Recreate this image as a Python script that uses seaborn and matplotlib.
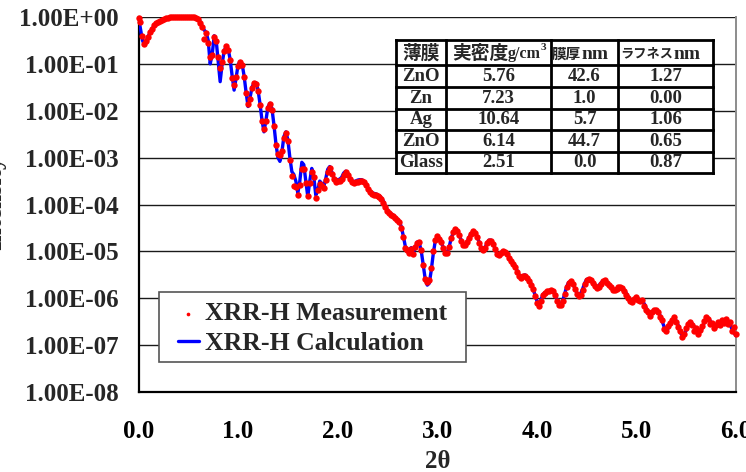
import numpy as np
import pandas as pd
import matplotlib
matplotlib.use("Agg")
import matplotlib.pyplot as plt
import seaborn as sns
from matplotlib.ticker import MultipleLocator, LogLocator, FuncFormatter, NullFormatter
from matplotlib.patches import Rectangle

# ---------------------------------------------------------------- data
# scan grid: 2-theta from 0.00 to 6.00 deg in 0.02 deg steps
two_theta = np.round(np.arange(301) * 0.02, 2)

# fitted reflectivity curve, log10(intensity)
calc_log10 = [
    -0.01, -0.25, -0.50, -0.60, -0.50, -0.40, -0.31, -0.24, -0.18, -0.13,
    -0.10, -0.08, -0.06, -0.04, -0.025, -0.015, -0.01, -0.006, -0.004, -0.002,
    -0.001, 0.0, 0.0, 0.0, 0.0, 0.0, -0.001, -0.002, -0.005, -0.01,
    -0.03, -0.10, -0.20, -0.28, -0.33, -0.50, -1.00, -0.80, -0.40, -0.50,
    -0.95, -1.38, -1.00, -0.72, -0.63, -0.68, -0.90, -1.25, -1.56, -1.30,
    -1.02, -0.95, -1.00, -1.25, -1.60, -1.91, -1.72, -1.50, -1.40, -1.40,
    -1.55, -1.85, -2.20, -2.45, -2.20, -1.92, -1.84, -1.95, -2.30, -2.70,
    -3.00, -3.08, -2.88, -2.55, -2.45, -2.62, -3.00, -3.30, -3.36, -3.50,
    -3.76, -3.50, -3.10, -3.15, -3.50, -3.83, -3.50, -3.23, -3.40, -3.80,
    -3.70, -3.50, -3.55, -3.62, -3.45, -3.25, -3.19, -3.30, -3.42, -3.48,
    -3.47, -3.46, -3.42, -3.33, -3.29, -3.33, -3.43, -3.50, -3.51, -3.50,
    -3.48, -3.47, -3.47, -3.50, -3.56, -3.64, -3.70, -3.74, -3.76, -3.77,
    -3.79, -3.82, -3.86, -3.93, -4.04, -4.12, -4.17, -4.20, -4.23, -4.27,
    -4.31, -4.36, -4.48, -4.68, -4.90, -5.00, -4.95, -4.92, -5.02, -4.92,
    -4.80, -4.82, -5.00, -5.30, -5.60, -5.72, -5.68, -5.40, -5.05, -4.78,
    -4.68, -4.72, -4.80, -4.92, -5.02, -5.02, -4.90, -4.72, -4.60, -4.54,
    -4.56, -4.65, -4.76, -4.84, -4.86, -4.80, -4.70, -4.62, -4.58, -4.60,
    -4.68, -4.80, -4.92, -4.97, -4.92, -4.82, -4.76, -4.76, -4.84, -4.94,
    -5.05, -5.07, -5.03, -4.99, -5.00, -5.04, -5.12, -5.18, -5.24, -5.30,
    -5.40, -5.50, -5.54, -5.52, -5.50, -5.54, -5.60, -5.68, -5.78, -5.92,
    -6.05, -6.12, -6.05, -5.92, -5.88, -5.86, -5.84, -5.83, -5.84, -5.90,
    -6.02, -6.12, -6.14, -6.05, -5.90, -5.75, -5.66, -5.64, -5.68, -5.78,
    -5.88, -5.94, -5.90, -5.80, -5.68, -5.60, -5.59, -5.61, -5.66, -5.72,
    -5.78, -5.74, -5.68, -5.64, -5.63, -5.66, -5.70, -5.76, -5.80, -5.82,
    -5.80, -5.77, -5.76, -5.78, -5.83, -5.90, -5.98, -6.04, -6.05, -6.02,
    -6.00, -6.02, -6.04, -6.06, -6.12, -6.22, -6.32, -6.36, -6.32, -6.26,
    -6.24, -6.28, -6.38, -6.50, -6.62, -6.68, -6.64, -6.55, -6.47, -6.44,
    -6.48, -6.58, -6.72, -6.80, -6.78, -6.68, -6.58, -6.54, -6.54, -6.60,
    -6.68, -6.73, -6.72, -6.64, -6.52, -6.44, -6.42, -6.48, -6.56, -6.60,
    -6.60, -6.56, -6.52, -6.50, -6.48, -6.47, -6.50, -6.56, -6.66, -6.74,
    -6.80,
]

# measured reflectivity, log10(intensity)
meas_log10 = [
    -0.02, -0.10, -0.40, -0.58, -0.52, -0.42, -0.32, -0.25, -0.18, -0.13,
    -0.10, -0.08, -0.06, -0.04, -0.03, -0.02, -0.01, -0.007, -0.005, -0.003,
    -0.002, -0.001, 0.0, 0.0, 0.0, 0.0, -0.002, -0.004, -0.008, -0.015,
    -0.04, -0.12, -0.22, -0.46, -0.35, -0.55, -0.86, -0.80, -0.42, -0.52,
    -0.85, -1.08, -0.95, -0.72, -0.62, -0.70, -0.92, -1.30, -1.45, -1.28,
    -1.05, -0.96, -1.02, -1.28, -1.62, -1.85, -1.75, -1.52, -1.40, -1.42,
    -1.58, -1.88, -2.22, -2.38, -2.22, -1.95, -1.86, -1.98, -2.32, -2.72,
    -2.92, -2.95, -2.85, -2.58, -2.47, -2.65, -3.05, -3.40, -3.60, -3.62,
    -3.80, -3.58, -3.25, -3.24, -3.55, -3.82, -3.55, -3.30, -3.42, -3.86,
    -3.70, -3.56, -3.60, -3.64, -3.48, -3.30, -3.22, -3.34, -3.46, -3.52,
    -3.50, -3.49, -3.45, -3.36, -3.31, -3.36, -3.46, -3.53, -3.54, -3.53,
    -3.51, -3.50, -3.50, -3.53, -3.59, -3.67, -3.73, -3.77, -3.79, -3.80,
    -3.82, -3.85, -3.89, -3.96, -4.06, -4.14, -4.19, -4.22, -4.25, -4.29,
    -4.33, -4.38, -4.50, -4.70, -4.92, -4.97, -5.03, -4.94, -5.06, -4.90,
    -4.82, -4.80, -4.98, -5.30, -5.58, -5.66, -5.62, -5.35, -5.00, -4.76,
    -4.67, -4.73, -4.81, -4.93, -5.04, -5.03, -4.91, -4.72, -4.59, -4.53,
    -4.56, -4.66, -4.78, -4.86, -4.87, -4.81, -4.71, -4.62, -4.57, -4.61,
    -4.70, -4.82, -4.93, -4.98, -4.93, -4.83, -4.77, -4.77, -4.85, -4.95,
    -5.06, -5.08, -5.04, -5.00, -5.01, -5.06, -5.14, -5.20, -5.26, -5.33,
    -5.43, -5.52, -5.56, -5.53, -5.52, -5.57, -5.63, -5.71, -5.80, -5.95,
    -6.10, -6.16, -6.06, -5.93, -5.89, -5.85, -5.84, -5.82, -5.85, -5.92,
    -6.05, -6.14, -6.15, -6.06, -5.91, -5.76, -5.67, -5.64, -5.69, -5.80,
    -5.90, -5.96, -5.92, -5.82, -5.70, -5.61, -5.58, -5.61, -5.67, -5.73,
    -5.79, -5.75, -5.69, -5.64, -5.62, -5.67, -5.71, -5.76, -5.82, -5.83,
    -5.81, -5.76, -5.77, -5.79, -5.84, -5.92, -6.00, -6.06, -6.07, -6.02,
    -5.98, -6.03, -6.05, -6.04, -6.16, -6.25, -6.30, -6.38, -6.30, -6.25,
    -6.26, -6.30, -6.40, -6.47, -6.65, -6.70, -6.60, -6.52, -6.46, -6.40,
    -6.50, -6.62, -6.70, -6.82, -6.76, -6.64, -6.55, -6.50, -6.58, -6.70,
    -6.64, -6.76, -6.68, -6.60, -6.48, -6.40, -6.45, -6.55, -6.52, -6.64,
    -6.56, -6.50, -6.58, -6.46, -6.52, -6.44, -6.54, -6.50, -6.70, -6.62,
    -6.76,
]

# fitted layer model
layer_names = ["ZnO", "Zn", "Ag", "ZnO", "Glass"]
density = [5.76, 7.23, 10.64, 6.14, 2.51]
thickness = [42.6, 1.0, 5.7, 44.7, 0.0]
roughness = [1.27, 0.00, 1.06, 0.65, 0.87]

series_labels = ["XRR-H Measurement", "XRR-H Calculation"]
x_ticks = [0.0, 1.0, 2.0, 3.0, 4.0, 5.0, 6.0]

# ---------------------------------------------------------------- style
sns.set_style("white")
plt.rcParams["font.family"] = ["Liberation Serif", "Noto Sans CJK JP", "DejaVu Sans"]
plt.rcParams["font.weight"] = "bold"

W, H = 746, 472
fig = plt.figure(figsize=(W / 100, H / 100), dpi=100)
x0, x1, y0, y1 = 138.5, 736.0, 17.0, 392.0
ax = fig.add_axes([x0 / W, (H - y1) / H, (x1 - x0) / W, (y1 - y0) / H])

calc_df = pd.DataFrame({"two_theta": two_theta, "intensity": 10.0 ** np.array(calc_log10)})
meas_df = pd.DataFrame({"two_theta": two_theta, "intensity": 10.0 ** np.array(meas_log10)})

ax.set_yscale("log")
sns.lineplot(data=calc_df, x="two_theta", y="intensity", ax=ax, color="#0000FF",
             lw=2.4, estimator=None, sort=False, label=series_labels[1], zorder=3)
sns.scatterplot(data=meas_df, x="two_theta", y="intensity", ax=ax, color="#FF0000",
                s=21, linewidth=0, label=series_labels[0], zorder=4, clip_on=False)

ax.set_xlim(0, 6)
ax.set_ylim(1e-8, 1)

# x axis
ax.xaxis.set_major_locator(MultipleLocator(1))
ax.xaxis.set_minor_locator(MultipleLocator(0.2))
ax.set_xticks(x_ticks)
ax.xaxis.set_major_formatter(FuncFormatter(lambda v, p: f"{v:.1f}"))
ax.tick_params(axis="x", which="major", direction="in", length=6, width=1.2,
               labelsize=18, pad=20, colors="black")
ax.tick_params(axis="x", which="minor", direction="in", length=3.5, width=1.0)

# y axis
ax.yaxis.set_major_locator(LogLocator(base=10, numticks=20))
ax.yaxis.set_minor_locator(LogLocator(base=10, subs=np.arange(2, 10), numticks=100))
ax.yaxis.set_major_formatter(FuncFormatter(lambda v, p: f"{v:.2E}"))
ax.yaxis.set_minor_formatter(NullFormatter())
ax.tick_params(axis="y", which="major", direction="in", length=5, width=1.0,
               labelsize=18, pad=14)
ax.tick_params(axis="y", which="minor", direction="in", length=4.5, width=1.0)

ax.grid(axis="y", which="major", color="#1a1a1a", lw=1.0)
ax.grid(axis="x", visible=False)
ax.set_axisbelow(True)

for side in ["left", "bottom"]:
    ax.spines[side].set_color("black")
    ax.spines[side].set_linewidth(1.6)
ax.spines["right"].set_color("#8c8c8c")
ax.spines["right"].set_linewidth(1.4)
ax.spines["top"].set_visible(False)

ax.set_xlabel("2θ", fontsize=18, fontweight="bold", labelpad=5)
ax.set_ylabel("")

# legend inside a white box
px = lambda v: (v - x0) / (x1 - x0)
py = lambda v: (y1 - v) / (y1 - y0)
ax.add_patch(Rectangle((px(159), py(362)), px(466) - px(159), py(292) - py(362),
                       transform=ax.transAxes, facecolor="white", edgecolor="#555555",
                       lw=1.2, zorder=4.5))
handles, labels = ax.get_legend_handles_labels()
order = [labels.index(s) for s in series_labels]
leg = ax.legend([handles[i] for i in order], [labels[i] for i in order],
                loc="center left", bbox_to_anchor=(px(178), py(328.5)),
                frameon=False, borderpad=0, borderaxespad=0, handlelength=0.8,
                handletextpad=0.25, labelspacing=0.25,
                prop={"family": "Liberation Serif", "weight": "bold", "size": 18.5})
leg.set_zorder(6)
leg.legend_handles[0].set_sizes([7])

# ---------------------------------------------------------------- overlay (table, y label)
ov = fig.add_axes([0, 0, 1, 1], zorder=10)
ov.set_xlim(0, W)
ov.set_ylim(H, 0)
ov.axis("off")

ov.text(6, 203, "Intensity", rotation=90, ha="right", va="center",
        fontsize=18, fontweight="bold", family="Liberation Serif")

cols = [396, 446, 551, 618, 713]
rows = [40, 65, 87, 108.5, 130, 151.5, 173]
ov.add_patch(Rectangle((cols[0], rows[0]), cols[-1] - cols[0], rows[-1] - rows[0],
                       facecolor="white", edgecolor="none", zorder=1))
for c in cols:
    ov.plot([c, c], [rows[0], rows[-1]], color="black", lw=2.0, zorder=2,
            solid_capstyle="projecting")
for r in rows:
    ov.plot([cols[0], cols[-1]], [r, r], color="black", lw=2.0, zorder=2,
            solid_capstyle="projecting")

hy = (rows[0] + rows[1]) / 2 + 1
jp = {"family": "Noto Sans CJK JP", "weight": "bold"}
rm = {"family": "Liberation Serif", "weight": "bold"}
ov.text((cols[0] + cols[1]) / 2, hy, "薄膜", ha="center", va="center", fontsize=13.5, zorder=3, **jp)
ov.text(508, hy, "実密度", ha="right", va="center", fontsize=13.5, zorder=3, **jp)
ov.text(508, hy + 1, "g/cm", ha="left", va="center", fontsize=11.5, zorder=3, **rm)
ov.text(541, hy - 6, "3", ha="left", va="center", fontsize=8, zorder=3, **rm)
ov.text(581, hy, "膜厚", ha="right", va="center", fontsize=10.5, zorder=3, **jp)
ov.text(581, hy + 1, "nm", ha="left", va="center", fontsize=14, zorder=3, **rm)
ov.text(673, hy, "ラフネス", ha="right", va="center", fontsize=9.5, zorder=3, **jp)
ov.text(673, hy + 1, "nm", ha="left", va="center", fontsize=14, zorder=3, **rm)

centers = [(cols[i] + cols[i + 1]) / 2 for i in range(4)]
for k in range(len(layer_names)):
    yc = (rows[k + 1] + rows[k + 2]) / 2 + 0.5
    cells = [layer_names[k], f"{density[k]:.2f}", f"{thickness[k]:.1f}", f"{roughness[k]:.2f}"]
    for cx, txt in zip(centers, cells):
        ov.text(cx, yc, txt, ha="center", va="center", fontsize=13.5, zorder=3, **rm)

fig.savefig("out.png", dpi=100)
